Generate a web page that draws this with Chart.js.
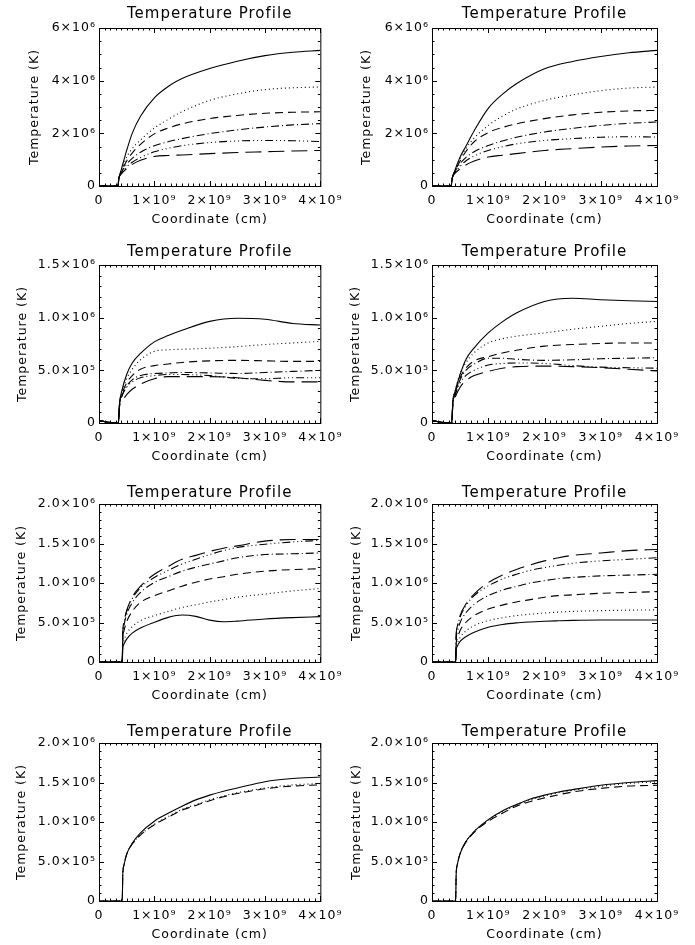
<!DOCTYPE html>
<html>
<head>
<meta charset="utf-8">
<script src="https://cdn.jsdelivr.net/npm/chart.js@4.4.0/dist/chart.umd.min.js"></script>
<style>
    html, body { margin: 0; padding: 0; background: #fff; overflow: hidden; }
    #page { position: relative; width: 695px; height: 945px; }
    canvas { position: absolute; }
</style>
</head>
<body>
<div id="page">
    <canvas id="p1" width="347" height="230" style="left:0;top:0"></canvas>
    <canvas id="p2" width="348" height="230" style="left:347px;top:0"></canvas>
    <canvas id="p3" width="347" height="230" style="left:0;top:237px"></canvas>
    <canvas id="p4" width="348" height="230" style="left:347px;top:237px"></canvas>
    <canvas id="p5" width="347" height="230" style="left:0;top:476px"></canvas>
    <canvas id="p6" width="348" height="230" style="left:347px;top:476px"></canvas>
    <canvas id="p7" width="347" height="230" style="left:0;top:715px"></canvas>
    <canvas id="p8" width="348" height="230" style="left:347px;top:715px"></canvas>
</div>
<script>
// coordinate along the loop, units of 1e9 cm
const xRow1 = [0, 0.34, 0.36, 0.4, 0.5, 0.6, 0.75, 1.0, 1.25, 1.5, 2.0, 2.5, 3.0, 3.5, 4.0];
const xRow2 = [0, 0.35, 0.37, 0.41, 0.5, 0.6, 0.75, 1.0, 1.25, 1.5, 2.0, 2.5, 3.0, 3.5, 4.0];
const xRow34 = [0, 0.42, 0.43, 0.45, 0.5, 0.6, 0.75, 1.0, 1.25, 1.5, 1.75, 2.0, 2.25, 2.5, 3.0, 3.5, 4.0];

// temperatures, units of 1e6 K (solid, dotted, dashed, dash-dot, dash-dot-dot, long dash)
const panel1 = [
    [0, 0, 0.3, 0.6, 1.35, 2.0, 2.65, 3.35, 3.78, 4.08, 4.46, 4.74, 4.95, 5.08, 5.15],
    [0, 0, 0.3, 0.55, 1.1, 1.42, 1.75, 2.2, 2.53, 2.82, 3.25, 3.5, 3.66, 3.73, 3.76],
    [0, 0, 0.3, 0.52, 0.95, 1.25, 1.58, 1.98, 2.2, 2.36, 2.56, 2.68, 2.76, 2.8, 2.82],
    [0, 0, 0.3, 0.5, 0.83, 1.05, 1.28, 1.53, 1.68, 1.8, 1.99, 2.13, 2.24, 2.32, 2.37],
    [0, 0, 0.3, 0.48, 0.72, 0.9, 1.08, 1.3, 1.43, 1.53, 1.65, 1.71, 1.73, 1.72, 1.69],
    [0, 0, 0.3, 0.45, 0.66, 0.82, 0.98, 1.12, 1.16, 1.18, 1.23, 1.27, 1.3, 1.33, 1.35]
];
const panel2 = [
    [0, 0, 0.3, 0.55, 1.1, 1.5, 2.1, 2.95, 3.48, 3.88, 4.45, 4.73, 4.92, 5.06, 5.15],
    [0, 0, 0.3, 0.55, 1.05, 1.42, 1.82, 2.3, 2.65, 2.92, 3.25, 3.46, 3.62, 3.72, 3.76],
    [0, 0, 0.3, 0.52, 0.95, 1.3, 1.68, 2.03, 2.22, 2.36, 2.56, 2.7, 2.8, 2.85, 2.87],
    [0, 0, 0.3, 0.5, 0.85, 1.08, 1.3, 1.54, 1.71, 1.85, 2.05, 2.19, 2.3, 2.38, 2.43],
    [0, 0, 0.3, 0.48, 0.75, 0.95, 1.14, 1.35, 1.49, 1.6, 1.73, 1.8, 1.85, 1.87, 1.86],
    [0, 0, 0.3, 0.46, 0.65, 0.8, 0.95, 1.1, 1.17, 1.23, 1.35, 1.42, 1.48, 1.52, 1.54]
];
const panel3 = [
    [0.02, 0, 0.18, 0.3, 0.46, 0.57, 0.66, 0.77, 0.83, 0.88, 0.965, 0.995, 0.985, 0.945, 0.93],
    [0.02, 0, 0.18, 0.28, 0.42, 0.51, 0.6, 0.68, 0.695, 0.70, 0.71, 0.725, 0.745, 0.76, 0.775],
    [0.02, 0, 0.18, 0.27, 0.38, 0.45, 0.51, 0.545, 0.56, 0.575, 0.59, 0.595, 0.59, 0.585, 0.585],
    [0.02, 0, 0.17, 0.25, 0.35, 0.41, 0.45, 0.47, 0.475, 0.48, 0.475, 0.47, 0.48, 0.49, 0.50],
    [0.02, 0, 0.17, 0.25, 0.34, 0.39, 0.43, 0.45, 0.46, 0.46, 0.45, 0.425, 0.42, 0.43, 0.43],
    [0.02, 0, 0.15, 0.2, 0.27, 0.32, 0.37, 0.42, 0.44, 0.44, 0.44, 0.43, 0.405, 0.39, 0.39]
];
const panel4 = [
    [0.02, 0, 0.2, 0.3, 0.46, 0.6, 0.714, 0.855, 0.96, 1.044, 1.154, 1.185, 1.17, 1.16, 1.154],
    [0.02, 0, 0.2, 0.3, 0.47, 0.57, 0.667, 0.76, 0.8, 0.824, 0.855, 0.89, 0.918, 0.945, 0.965],
    [0.02, 0, 0.19, 0.28, 0.43, 0.52, 0.59, 0.63, 0.665, 0.69, 0.73, 0.745, 0.755, 0.76, 0.76],
    [0.02, 0, 0.18, 0.27, 0.41, 0.5, 0.56, 0.615, 0.615, 0.605, 0.595, 0.6, 0.61, 0.615, 0.62],
    [0.02, 0, 0.17, 0.26, 0.38, 0.45, 0.5, 0.55, 0.565, 0.57, 0.565, 0.545, 0.53, 0.525, 0.52],
    [0.02, 0, 0.16, 0.24, 0.34, 0.4, 0.45, 0.49, 0.52, 0.535, 0.54, 0.535, 0.525, 0.51, 0.494]
];
const panel5 = [
    [0, 0, 0.17, 0.225, 0.29, 0.365, 0.43, 0.503, 0.565, 0.595, 0.578, 0.53, 0.51, 0.518, 0.545, 0.562, 0.574],
    [0, 0, 0.2, 0.27, 0.36, 0.445, 0.524, 0.587, 0.64, 0.69, 0.725, 0.76, 0.79, 0.82, 0.86, 0.90, 0.93],
    [0, 0, 0.29, 0.39, 0.51, 0.64, 0.755, 0.84, 0.90, 0.96, 1.01, 1.05, 1.08, 1.11, 1.15, 1.17, 1.18],
    [0, 0, 0.34, 0.46, 0.6, 0.75, 0.88, 1.006, 1.08, 1.15, 1.20, 1.24, 1.28, 1.32, 1.36, 1.37, 1.38],
    [0, 0, 0.36, 0.49, 0.64, 0.8, 0.94, 1.07, 1.16, 1.24, 1.30, 1.36, 1.41, 1.45, 1.49, 1.52, 1.54],
    [0, 0, 0.37, 0.5, 0.65, 0.82, 0.96, 1.11, 1.21, 1.30, 1.35, 1.40, 1.44, 1.47, 1.53, 1.55, 1.55]
];
const panel6 = [
    [0, 0, 0.15, 0.2, 0.26, 0.32, 0.377, 0.44, 0.475, 0.495, 0.507, 0.516, 0.522, 0.527, 0.532, 0.532, 0.532],
    [0, 0, 0.18, 0.24, 0.31, 0.39, 0.46, 0.524, 0.56, 0.587, 0.605, 0.62, 0.632, 0.64, 0.65, 0.656, 0.66],
    [0, 0, 0.23, 0.3, 0.4, 0.5, 0.587, 0.67, 0.72, 0.76, 0.79, 0.82, 0.84, 0.85, 0.87, 0.88, 0.89],
    [0, 0, 0.28, 0.38, 0.5, 0.62, 0.73, 0.84, 0.91, 0.956, 1.0, 1.03, 1.055, 1.07, 1.09, 1.10, 1.11],
    [0, 0, 0.33, 0.44, 0.57, 0.71, 0.84, 0.964, 1.05, 1.11, 1.16, 1.195, 1.225, 1.25, 1.28, 1.30, 1.32],
    [0, 0, 0.34, 0.45, 0.59, 0.73, 0.86, 1.006, 1.1, 1.17, 1.23, 1.28, 1.32, 1.35, 1.38, 1.41, 1.425]
];
const panel7 = [
    [0, 0, 0.34, 0.45, 0.59, 0.73, 0.863, 1.01, 1.11, 1.2, 1.28, 1.34, 1.39, 1.43, 1.51, 1.55, 1.57],
    [0, 0, 0.34, 0.45, 0.59, 0.72, 0.84, 0.97, 1.07, 1.16, 1.22, 1.28, 1.33, 1.37, 1.43, 1.47, 1.486],
    [0, 0, 0.34, 0.45, 0.59, 0.72, 0.835, 0.965, 1.06, 1.15, 1.21, 1.27, 1.32, 1.36, 1.42, 1.455, 1.47]
];
const panel8 = [
    [0, 0, 0.34, 0.46, 0.6, 0.75, 0.88, 1.03, 1.14, 1.22, 1.29, 1.34, 1.38, 1.41, 1.465, 1.50, 1.524],
    [0, 0, 0.34, 0.46, 0.6, 0.75, 0.88, 1.02, 1.13, 1.21, 1.28, 1.33, 1.37, 1.40, 1.45, 1.49, 1.507],
    [0, 0, 0.34, 0.46, 0.6, 0.74, 0.87, 1.01, 1.11, 1.20, 1.26, 1.305, 1.345, 1.38, 1.425, 1.455, 1.465]
];

// tick values and labels
const xTickValues = [0, 1, 2, 3, 4];
const xTickLabels = ['0', '1×10⁹', '2×10⁹', '3×10⁹', '4×10⁹'];
const yTicksTop = [0, 2, 4, 6];
const yLabelsTop = ['0', '2×10⁶', '4×10⁶', '6×10⁶'];
const yTicksMid = [0, 0.5, 1.0, 1.5];
const yLabelsMid = ['0', '5.0×10⁵', '1.0×10⁶', '1.5×10⁶'];
const yTicksLow = [0, 0.5, 1.0, 1.5, 2.0];
const yLabelsLow = ['0', '5.0×10⁵', '1.0×10⁶', '1.5×10⁶', '2.0×10⁶'];

// IDL linestyles 0..5
const lineDashes = [[], [1, 3], [8, 5], [8, 3, 1, 3], [8, 3, 1, 3, 1, 3, 1, 3], [16, 7]];

Chart.defaults.font.family = "'DejaVu Sans', sans-serif";
Chart.defaults.color = '#000';

// box round the plot with inward major/minor ticks on all four sides
const framePlugin = {
    id: 'frame',
    beforeDraw(chart) {
        chart.ctx.letterSpacing = '1px';
    },
    afterDatasetsDraw(chart, args, opts) {
        const { ctx, chartArea: a, scales: { x, y } } = chart;
        ctx.save();
        ctx.letterSpacing = '0px';
        ctx.strokeStyle = '#000';
        ctx.lineWidth = 1;
        ctx.strokeRect(a.left + 0.5, a.top + 0.5, a.right - a.left, a.bottom - a.top);
        ctx.beginPath();
        for (let i = 0; i <= 40; i++) {
            const px = Math.round(x.getPixelForValue(i / 10)) + 0.5;
            const len = i % 10 === 0 ? 5 : 2.5;
            ctx.moveTo(px, a.bottom);
            ctx.lineTo(px, a.bottom - len);
            ctx.moveTo(px, a.top);
            ctx.lineTo(px, a.top + len);
        }
        const n = Math.round(opts.yMax / opts.yMinor);
        for (let i = 0; i <= n; i++) {
            const py = Math.round(y.getPixelForValue(i * opts.yMinor)) + 0.5;
            const len = i % opts.perMajor === 0 ? 5 : 2.5;
            ctx.moveTo(a.left, py);
            ctx.lineTo(a.left + len, py);
            ctx.moveTo(a.right, py);
            ctx.lineTo(a.right - len, py);
        }
        ctx.stroke();
        ctx.restore();
    }
};

const panels = [
    { id: 'p1', xs: xRow1, series: panel1, yMax: 6, yTicks: yTicksTop, yLabels: yLabelsTop, yMinor: 0.5, perMajor: 4, yTitle: 35, gap: 14 },
    { id: 'p2', xs: xRow1, series: panel2, yMax: 6, yTicks: yTicksTop, yLabels: yLabelsTop, yMinor: 0.5, perMajor: 4, yTitle: 19.5, gap: 14 },
    { id: 'p3', xs: xRow2, series: panel3, yMax: 1.5, yTicks: yTicksMid, yLabels: yLabelsMid, yMinor: 0.1, perMajor: 5, yTitle: 23, gap: 13 },
    { id: 'p4', xs: xRow2, series: panel4, yMax: 1.5, yTicks: yTicksMid, yLabels: yLabelsMid, yMinor: 0.1, perMajor: 5, yTitle: 9, gap: 13 },
    { id: 'p5', xs: xRow34, series: panel5, yMax: 2, yTicks: yTicksLow, yLabels: yLabelsLow, yMinor: 0.1, perMajor: 5, yTitle: 22, gap: 11 },
    { id: 'p6', xs: xRow34, series: panel6, yMax: 2, yTicks: yTicksLow, yLabels: yLabelsLow, yMinor: 0.1, perMajor: 5, yTitle: 10, gap: 11 },
    { id: 'p7', xs: xRow34, series: panel7, yMax: 2, yTicks: yTicksLow, yLabels: yLabelsLow, yMinor: 0.1, perMajor: 5, yTitle: 22, gap: 11 },
    { id: 'p8', xs: xRow34, series: panel8, yMax: 2, yTicks: yTicksLow, yLabels: yLabelsLow, yMinor: 0.1, perMajor: 5, yTitle: 10, gap: 11 }
];

panels.forEach(function (p, idx) {
    const rightCol = idx % 2 === 1;
    new Chart(document.getElementById(p.id), {
        type: 'line',
        data: {
            datasets: p.series.map(function (ys, i) {
                return {
                    data: ys.map((v, k) => ({ x: p.xs[k], y: v })),
                    borderColor: '#000',
                    borderWidth: 1.1,
                    borderDash: lineDashes[i],
                    pointRadius: 0,
                    cubicInterpolationMode: 'monotone',
                    fill: false
                };
            })
        },
        options: {
            responsive: false,
            animation: false,
            devicePixelRatio: 1,
            layout: { padding: { left: 0, right: rightCol ? 38 : 24, top: 0, bottom: 0 } },
            plugins: {
                legend: { display: false },
                tooltip: { enabled: false },
                title: {
                    display: true,
                    text: 'Temperature Profile',
                    fullSize: false,
                    font: { size: 15, weight: 'normal' },
                    color: '#000',
                    padding: { top: 19 - p.gap, bottom: p.gap - 9 }
                },
                frame: { yMax: p.yMax, yMinor: p.yMinor, perMajor: p.perMajor }
            },
            scales: {
                x: {
                    type: 'linear',
                    min: 0,
                    max: 4,
                    grid: { display: false, drawTicks: false },
                    border: { display: false },
                    afterBuildTicks: s => { s.ticks = xTickValues.map(v => ({ value: v })); },
                    afterFit: s => { s.height = 44; },
                    ticks: {
                        autoSkip: false,
                        maxRotation: 0,
                        minRotation: 0,
                        padding: 7,
                        font: { size: 12.5 },
                        callback: (v, i) => xTickLabels[i]
                    },
                    title: {
                        display: true,
                        text: 'Coordinate (cm)',
                        font: { size: 12.5 },
                        padding: { top: 0, bottom: 3 }
                    }
                },
                y: {
                    type: 'linear',
                    min: 0,
                    max: p.yMax,
                    grid: { display: false, drawTicks: false },
                    border: { display: false },
                    afterBuildTicks: s => { s.ticks = p.yTicks.map(v => ({ value: v })); },
                    afterFit: s => { s.width = rightCol ? 85 : 99; },
                    ticks: {
                        autoSkip: false,
                        padding: 3,
                        font: { size: 12.5 },
                        callback: (v, i) => p.yLabels[i]
                    },
                    title: {
                        display: true,
                        text: 'Temperature (K)',
                        font: { size: 12.5 },
                        padding: { top: p.yTitle - 7.5, bottom: 0 }
                    }
                }
            }
        },
        plugins: [framePlugin]
    });
});
</script>
</body>
</html>
